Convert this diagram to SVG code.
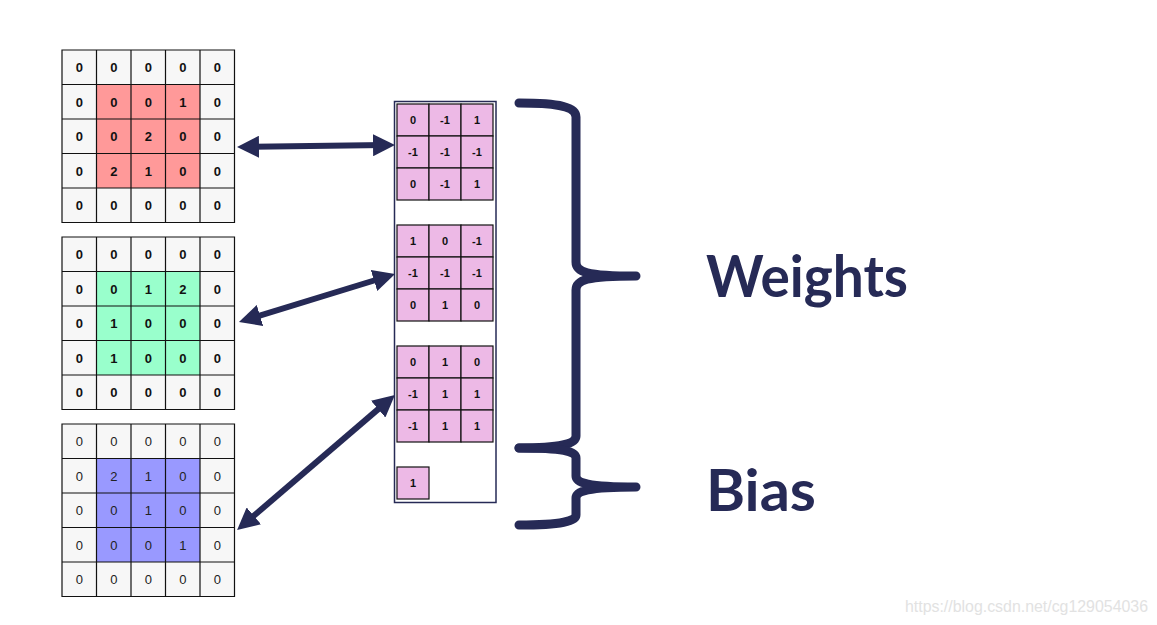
<svg xmlns="http://www.w3.org/2000/svg" width="1157" height="625" viewBox="0 0 1157 625">
<style>
.bg{fill:#ffffff}
.outer{fill:#f7f7f7}
.gl{fill:none;stroke:#111;stroke-width:1.2}
.n{font-family:"Liberation Sans",Arial,sans-serif;font-size:13px;font-weight:bold;fill:#111;text-anchor:middle}
.nr{font-family:"Liberation Sans",Arial,sans-serif;font-size:13px;fill:#222;text-anchor:middle}
.k{font-family:"Liberation Sans",Arial,sans-serif;font-size:11px;font-weight:bold;fill:#111;text-anchor:middle}
.kc{fill:#edb9e6;stroke:#111;stroke-width:1.2}
.arrow{stroke:#262a56;stroke-width:6;fill:none}
.brace{stroke:#262a56;stroke-width:9;fill:none;stroke-linecap:round;stroke-linejoin:round}
.lbl{font-family:Lato,"Open Sans",sans-serif;font-weight:bold;font-size:58px;fill:#262a56}
</style>
<defs>
<marker id="ah" markerUnits="userSpaceOnUse" viewBox="0 0 22 22" markerWidth="22" markerHeight="22" refX="12" refY="11" orient="auto-start-reverse">
<path d="M0,0 L22,11 L0,22 z" fill="#262a56"/>
</marker>
</defs>
<rect class="bg" x="0" y="0" width="1157" height="625"/>

<g id="grid-red">
<rect class="outer" x="62" y="50" width="172.5" height="172.5"/>
<rect x="96.5" y="84.5" width="103.5" height="103.5" fill="#ff9999"/>
<path class="gl" d="M62,50h172.5v172.5h-172.5z M96.5,50v172.5 M131,50v172.5 M165.5,50v172.5 M200,50v172.5 M62,84.5h172.5 M62,119h172.5 M62,153.5h172.5 M62,188h172.5"/>
<g class="n">
<text x="79.25" y="72">0</text><text x="113.75" y="72">0</text><text x="148.25" y="72">0</text><text x="182.75" y="72">0</text><text x="217.25" y="72">0</text>
<text x="79.25" y="106.5">0</text><text x="113.75" y="106.5">0</text><text x="148.25" y="106.5">0</text><text x="182.75" y="106.5">1</text><text x="217.25" y="106.5">0</text>
<text x="79.25" y="141">0</text><text x="113.75" y="141">0</text><text x="148.25" y="141">2</text><text x="182.75" y="141">0</text><text x="217.25" y="141">0</text>
<text x="79.25" y="175.5">0</text><text x="113.75" y="175.5">2</text><text x="148.25" y="175.5">1</text><text x="182.75" y="175.5">0</text><text x="217.25" y="175.5">0</text>
<text x="79.25" y="210">0</text><text x="113.75" y="210">0</text><text x="148.25" y="210">0</text><text x="182.75" y="210">0</text><text x="217.25" y="210">0</text>
</g>
</g>

<g id="grid-green">
<rect class="outer" x="62" y="237" width="172.5" height="172.5"/>
<rect x="96.5" y="271.5" width="103.5" height="103.5" fill="#99ffcc"/>
<path class="gl" d="M62,237h172.5v172.5h-172.5z M96.5,237v172.5 M131,237v172.5 M165.5,237v172.5 M200,237v172.5 M62,271.5h172.5 M62,306h172.5 M62,340.5h172.5 M62,375h172.5"/>
<g class="n">
<text x="79.25" y="259">0</text><text x="113.75" y="259">0</text><text x="148.25" y="259">0</text><text x="182.75" y="259">0</text><text x="217.25" y="259">0</text>
<text x="79.25" y="293.5">0</text><text x="113.75" y="293.5">0</text><text x="148.25" y="293.5">1</text><text x="182.75" y="293.5">2</text><text x="217.25" y="293.5">0</text>
<text x="79.25" y="328">0</text><text x="113.75" y="328">1</text><text x="148.25" y="328">0</text><text x="182.75" y="328">0</text><text x="217.25" y="328">0</text>
<text x="79.25" y="362.5">0</text><text x="113.75" y="362.5">1</text><text x="148.25" y="362.5">0</text><text x="182.75" y="362.5">0</text><text x="217.25" y="362.5">0</text>
<text x="79.25" y="397">0</text><text x="113.75" y="397">0</text><text x="148.25" y="397">0</text><text x="182.75" y="397">0</text><text x="217.25" y="397">0</text>
</g>
</g>

<g id="grid-blue">
<rect class="outer" x="62" y="424" width="172.5" height="172.5"/>
<rect x="96.5" y="458.5" width="103.5" height="103.5" fill="#9999ff"/>
<path class="gl" d="M62,424h172.5v172.5h-172.5z M96.5,424v172.5 M131,424v172.5 M165.5,424v172.5 M200,424v172.5 M62,458.5h172.5 M62,493h172.5 M62,527.5h172.5 M62,562h172.5"/>
<g class="nr">
<text x="79.25" y="446">0</text><text x="113.75" y="446">0</text><text x="148.25" y="446">0</text><text x="182.75" y="446">0</text><text x="217.25" y="446">0</text>
<text x="79.25" y="480.5">0</text><text x="113.75" y="480.5">2</text><text x="148.25" y="480.5">1</text><text x="182.75" y="480.5">0</text><text x="217.25" y="480.5">0</text>
<text x="79.25" y="515">0</text><text x="113.75" y="515">0</text><text x="148.25" y="515">1</text><text x="182.75" y="515">0</text><text x="217.25" y="515">0</text>
<text x="79.25" y="549.5">0</text><text x="113.75" y="549.5">0</text><text x="148.25" y="549.5">0</text><text x="182.75" y="549.5">1</text><text x="217.25" y="549.5">0</text>
<text x="79.25" y="584">0</text><text x="113.75" y="584">0</text><text x="148.25" y="584">0</text><text x="182.75" y="584">0</text><text x="217.25" y="584">0</text>
</g>
</g>

<g id="filter-stack">
<rect x="394.5" y="101.5" width="101.5" height="401" fill="#ffffff" stroke="#262a56" stroke-width="1.5"/>
<g id="kernel-1">
<rect class="kc" x="397" y="104" width="32" height="32"/><rect class="kc" x="429" y="104" width="32" height="32"/><rect class="kc" x="461" y="104" width="32" height="32"/>
<rect class="kc" x="397" y="136" width="32" height="32"/><rect class="kc" x="429" y="136" width="32" height="32"/><rect class="kc" x="461" y="136" width="32" height="32"/>
<rect class="kc" x="397" y="168" width="32" height="32"/><rect class="kc" x="429" y="168" width="32" height="32"/><rect class="kc" x="461" y="168" width="32" height="32"/>
<g class="k">
<text x="413" y="124">0</text><text x="445" y="124">-1</text><text x="477" y="124">1</text>
<text x="413" y="156">-1</text><text x="445" y="156">-1</text><text x="477" y="156">-1</text>
<text x="413" y="188">0</text><text x="445" y="188">-1</text><text x="477" y="188">1</text>
</g>
</g>
<g id="kernel-2">
<rect class="kc" x="397" y="225" width="32" height="32"/><rect class="kc" x="429" y="225" width="32" height="32"/><rect class="kc" x="461" y="225" width="32" height="32"/>
<rect class="kc" x="397" y="257" width="32" height="32"/><rect class="kc" x="429" y="257" width="32" height="32"/><rect class="kc" x="461" y="257" width="32" height="32"/>
<rect class="kc" x="397" y="289" width="32" height="32"/><rect class="kc" x="429" y="289" width="32" height="32"/><rect class="kc" x="461" y="289" width="32" height="32"/>
<g class="k">
<text x="413" y="245">1</text><text x="445" y="245">0</text><text x="477" y="245">-1</text>
<text x="413" y="277">-1</text><text x="445" y="277">-1</text><text x="477" y="277">-1</text>
<text x="413" y="309">0</text><text x="445" y="309">1</text><text x="477" y="309">0</text>
</g>
</g>
<g id="kernel-3">
<rect class="kc" x="397" y="346" width="32" height="32"/><rect class="kc" x="429" y="346" width="32" height="32"/><rect class="kc" x="461" y="346" width="32" height="32"/>
<rect class="kc" x="397" y="378" width="32" height="32"/><rect class="kc" x="429" y="378" width="32" height="32"/><rect class="kc" x="461" y="378" width="32" height="32"/>
<rect class="kc" x="397" y="410" width="32" height="32"/><rect class="kc" x="429" y="410" width="32" height="32"/><rect class="kc" x="461" y="410" width="32" height="32"/>
<g class="k">
<text x="413" y="366">0</text><text x="445" y="366">1</text><text x="477" y="366">0</text>
<text x="413" y="398">-1</text><text x="445" y="398">1</text><text x="477" y="398">1</text>
<text x="413" y="430">-1</text><text x="445" y="430">1</text><text x="477" y="430">1</text>
</g>
</g>
<g id="bias-cell">
<rect class="kc" x="397" y="467" width="32" height="32"/>
<text class="k" x="413" y="487">1</text>
</g>
</g>

<g id="connectors">
<line class="arrow" x1="247" y1="146.9" x2="385" y2="145.1" marker-start="url(#ah)" marker-end="url(#ah)"/>
<line class="arrow" x1="248.5" y1="319" x2="385.5" y2="277" marker-start="url(#ah)" marker-end="url(#ah)"/>
<line class="arrow" x1="244.7" y1="523.6" x2="387.3" y2="401.4" marker-start="url(#ah)" marker-end="url(#ah)"/>
</g>

<g id="brace-weights">
<path class="brace" d="M519,103 C560,103 576,107 576,117 L576,262 C576,272 586,276 636,276 C586,276 576,280 576,290 L576,436 C576,444 560,448 519,448"/>
</g>
<g id="brace-bias">
<path class="brace" d="M519,448 C562,448 576,451 576,458 L576,476 C576,483 588,487 636,487 C588,487 576,491 576,498 L576,515 C576,521 562,525 519,525"/>
</g>

<g id="label-weights">
<text class="lbl" x="706" y="297" textLength="202" lengthAdjust="spacingAndGlyphs">Weights</text>
</g>
<g id="label-bias">
<text class="lbl" x="706" y="511" textLength="110" lengthAdjust="spacingAndGlyphs">Bias</text>
</g>

<text x="905" y="612" font-family="Liberation Sans,Arial,sans-serif" font-size="16" fill="#e2e2e2" textLength="243" lengthAdjust="spacingAndGlyphs">https://blog.csdn.net/cg129054036</text>
</svg>
